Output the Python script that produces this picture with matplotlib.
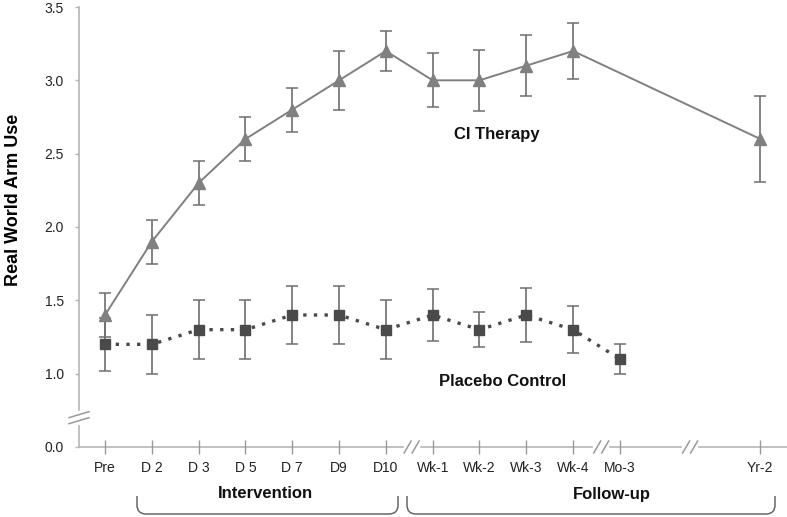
#!/usr/bin/env python3
import matplotlib
matplotlib.use('Agg')
import matplotlib.pyplot as plt
from matplotlib.lines import Line2D
from matplotlib.path import Path
from matplotlib.patches import PathPatch
from matplotlib.transforms import IdentityTransform

# time points (Yr-2 sits further out, after a break)
categories = ['Pre', 'D 2', 'D 3', 'D 5', 'D 7', 'D9', 'D10',
              'Wk-1', 'Wk-2', 'Wk-3', 'Wk-4', 'Mo-3', 'Yr-2']
cat_pos = [0, 1, 2, 3, 4, 5, 6, 7, 8, 9, 10, 11, 14]

ci_labels = ['Pre', 'D 2', 'D 3', 'D 5', 'D 7', 'D9', 'D10',
             'Wk-1', 'Wk-2', 'Wk-3', 'Wk-4', 'Yr-2']
ci_mean = [1.4, 1.9, 2.3, 2.6, 2.8, 3.0, 3.2, 3.0, 3.0, 3.1, 3.2, 2.6]
ci_err = [0.15, 0.15, 0.15, 0.15, 0.15, 0.2, 0.135, 0.185, 0.21, 0.21, 0.19, 0.29]

pl_labels = ['Pre', 'D 2', 'D 3', 'D 5', 'D 7', 'D9', 'D10',
             'Wk-1', 'Wk-2', 'Wk-3', 'Wk-4', 'Mo-3']
pl_mean = [1.2, 1.2, 1.3, 1.3, 1.4, 1.4, 1.3, 1.4, 1.3, 1.4, 1.3, 1.1]
pl_err = [0.18, 0.2, 0.2, 0.2, 0.2, 0.2, 0.2, 0.18, 0.12, 0.185, 0.16, 0.1]

y_ticks = [0.5, 1.0, 1.5, 2.0, 2.5, 3.0, 3.5]
y_ticklabels = ['0.0', '1.0', '1.5', '2.0', '2.5', '3.0', '3.5']
x_breaks = [6.55, 10.6, 12.5]
y_break = 0.70

plt.rcParams['font.family'] = ['Liberation Sans', 'DejaVu Sans']

W, H = 787, 517
fig = plt.figure(figsize=(W / 100, H / 100), dpi=100)
ax = fig.add_axes([79 / W, 1 - 447 / H, (W - 79) / W, 440 / H])

pos = dict(zip(categories, cat_pos))
ci_x = [pos[c] for c in ci_labels]
pl_x = [pos[c] for c in pl_labels]

axis_col = '#b5b5b5'
err_col = '#6e6e6e'

ax.errorbar(ci_x, ci_mean, yerr=ci_err, color='#808080', lw=1.4,
            marker='^', ms=8, mec='#808080', mfc='#808080',
            ecolor=err_col, elinewidth=1.2, capsize=4, capthick=1.1, zorder=3)
ax.errorbar(pl_x, pl_mean, yerr=pl_err, color='#4a4a4a', lw=2.4,
            linestyle=(0, (1, 2.2)), marker='s', ms=6.5,
            mec='#4a4a4a', mfc='#4a4a4a',
            ecolor=err_col, elinewidth=1.2, capsize=4, capthick=1.1, zorder=3)

ax.set_xlim(-0.556, 14.57)
ax.set_ylim(0.5, 3.5)
ax.set_xticks(cat_pos)
ax.set_xticklabels(categories)
ax.set_yticks(y_ticks)
ax.set_yticklabels(y_ticklabels)
for s in ax.spines.values():
    s.set_visible(False)
ax.tick_params(axis='x', direction='inout', length=10, width=1,
               color='#999999', labelsize=10, labelcolor='#222222', pad=5)
ax.tick_params(axis='y', direction='out', length=3, width=1,
               color=axis_col, labelsize=10, labelcolor='#222222', pad=8)

# axis lines with breaks
xl, xr = ax.get_xlim()
gap = 0.19
edges = [xl] + [v for b in x_breaks for v in (b - gap, b + gap)] + [xr]
for a, b in zip(edges[::2], edges[1::2]):
    ax.plot([a, b], [0.5, 0.5], color=axis_col, lw=1.2, clip_on=False, zorder=1)
ax.plot([xl, xl], [3.5, y_break + 0.055], color=axis_col, lw=1.2, clip_on=False)
ax.plot([xl, xl], [y_break - 0.055, 0.5], color=axis_col, lw=1.2, clip_on=False)


def px_line(xs, ys):
    fig.add_artist(Line2D(xs, ys, transform=IdentityTransform(),
                          color='#999999', lw=1.1))


fig.canvas.draw()
for b in x_breaks:
    cx, cy = ax.transData.transform((b, 0.5))
    for off in (-4, 4):
        px_line([cx + off - 3.5, cx + off + 3.5], [cy - 6, cy + 6])
cx, cy = ax.transData.transform((xl, y_break))
for off in (-3, 3):
    px_line([cx - 10, cx + 10], [cy + off - 3, cy + off + 3])

# series labels
ax.text(8.38, 2.63, 'CI Therapy', fontsize=12, fontweight='bold',
        ha='center', va='center', color='#111111')
ax.text(8.5, 0.945, 'Placebo Control', fontsize=12,
        fontweight='bold', ha='center', va='center', color='#111111')

fig.text(14 / W, 1 - 200 / H, 'Real World Arm Use', rotation=90,
         fontsize=13, fontweight='bold', ha='center', va='center')


# curly brackets under the x axis
def bracket(x0, x1, label, lx):
    top, bot, r = 496, 514, 9
    verts = [(x0, top), (x0, bot - r), (x0, bot), (x0 + r, bot),
             (x1 - r, bot), (x1, bot), (x1, bot - r), (x1, top)]
    codes = [Path.MOVETO, Path.LINETO, Path.CURVE3, Path.CURVE3,
             Path.LINETO, Path.CURVE3, Path.CURVE3, Path.LINETO]
    verts = [(x / W, 1 - y / H) for x, y in verts]
    fig.add_artist(PathPatch(Path(verts, codes), transform=fig.transFigure,
                             fill=False, edgecolor='#666666', lw=1.1))
    fig.text(lx / W, 1 - 494 / H, label, fontsize=12, fontweight='bold',
             ha='center', va='center', color='#111111')


bracket(137, 398, 'Intervention', 265)
bracket(407, 775, 'Follow-up', 612)

fig.savefig('out.png', dpi=100)
